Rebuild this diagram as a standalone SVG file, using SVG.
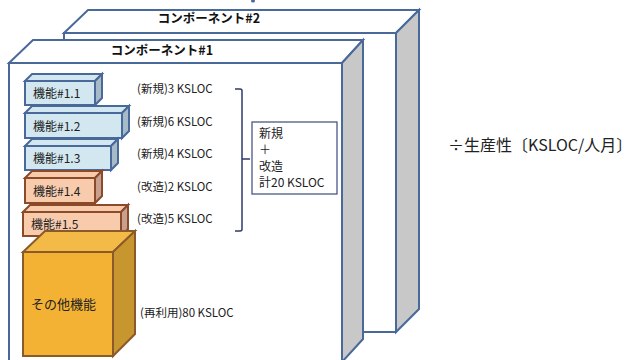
<svg xmlns="http://www.w3.org/2000/svg" width="640" height="360" viewBox="0 0 640 360">
<style>
.comp{fill:#fff;stroke:#48699A;stroke-width:2;stroke-linejoin:miter}
.compside{fill:#C8C8C8;stroke:#48699A;stroke-width:2}
.bf{fill:#D2E7F0;stroke:#48699A;stroke-width:2}
.bs{fill:#A7BAC7;stroke:#48699A;stroke-width:2}
.of{fill:#F8CBAD;stroke:#8B4A28;stroke-width:2}
.os{fill:#C9A08E;stroke:#8B4A28;stroke-width:2}
.yf{fill:#F4B234;stroke:#8B5A2B;stroke-width:2}
.yt{fill:#F3BA48;stroke:#8B5A2B;stroke-width:2}
.ys{fill:#C8962F;stroke:#8B5A2B;stroke-width:2}
.t{font-family:"Noto Sans CJK JP","Liberation Sans",sans-serif;fill:#222}
.lab{font-size:12px}
.side{font-size:11.5px}
.title{font-size:12.5px;font-weight:bold;fill:#111}
</style>
<ellipse cx="253" cy="1" rx="2" ry="1.5" fill="#48699A"/>
<g id="comp2">
<polygon class="comp" points="64,33 88,10 419,10 396,33"/>
<polygon class="compside" points="396,33 419,10 419,309 396,332"/>
<rect class="comp" x="64" y="33" width="332" height="299"/>
<text class="t title" x="209" y="23" text-anchor="middle">コンポーネント#2</text>
</g>
<g id="comp1">
<polygon class="comp" points="9,63 33,40 363,40 342,63"/>
<polygon class="compside" points="342,63 363,40 363,339 342,362"/>
<rect class="comp" x="9" y="63" width="333" height="302"/>
<text class="t title" x="162" y="55" text-anchor="middle">コンポーネント#1</text>
</g>
<g id="f11">
<polygon class="bf" points="25,81 32,74 102,74 95,81"/>
<polygon class="bs" points="95,81 102,74 102,98 95,105"/>
<rect class="bf" x="25" y="81" width="70" height="24"/>
<text class="t lab" x="33" y="98">機能#1.1</text>
</g>
<g id="f12">
<polygon class="bf" points="25,113 32,106 129,106 122,113"/>
<polygon class="bs" points="122,113 129,106 129,131 122,138"/>
<rect class="bf" x="25" y="113" width="97" height="25"/>
<text class="t lab" x="33" y="131">機能#1.2</text>
</g>
<g id="f13">
<polygon class="bf" points="25,146 32,139 118,139 111,146"/>
<polygon class="bs" points="111,146 118,139 118,163 111,170"/>
<rect class="bf" x="25" y="146" width="86" height="24"/>
<text class="t lab" x="33" y="163">機能#1.3</text>
</g>
<g id="f14">
<polygon class="of" points="25,178 32,171 102,171 95,178"/>
<polygon class="os" points="95,178 102,171 102,196 95,203"/>
<rect class="of" x="25" y="178" width="70" height="25"/>
<text class="t lab" x="33" y="196">機能#1.4</text>
</g>
<g id="f15">
<polygon class="of" points="23,212 30,205 128,205 121,212"/>
<polygon class="os" points="121,212 128,205 128,229 121,236"/>
<rect class="of" x="23" y="212" width="98" height="24"/>
<text class="t lab" x="31" y="229">機能#1.5</text>
</g>
<g id="other">
<polygon class="yt" points="23,252 45,231 135,231 113,252"/>
<polygon class="ys" points="113,252 135,231 135,334 113,356"/>
<rect class="yf" x="23" y="252" width="90" height="104"/>
<text class="t" style="font-size:13px" x="31" y="309">その他機能</text>
</g>
<g id="labels">
<text class="t side" x="137" y="93">(新規)3 KSLOC</text>
<text class="t side" x="137" y="126">(新規)6 KSLOC</text>
<text class="t side" x="137" y="158">(新規)4 KSLOC</text>
<text class="t side" x="137" y="191">(改造)2 KSLOC</text>
<text class="t side" x="137" y="223">(改造)5 KSLOC</text>
<text class="t side" x="140" y="317">(再利用)80 KSLOC</text>
</g>
<g id="connectors">
<path d="M235,89 H240 Q242,89 242,91 V229 Q242,231 240,231 H235 M242,159 H250" fill="none" stroke="#2F3A6B" stroke-width="1.5"/>
</g>
<g id="sum">
<rect x="252" y="122" width="85" height="72" fill="#fff" stroke="#3E4A7A" stroke-width="1.2"/>
<text class="t" style="font-size:12px" x="259" y="138">新規</text>
<text class="t" style="font-size:12px" x="259" y="154">＋</text>
<text class="t" style="font-size:12px" x="259" y="171">改造</text>
<text class="t" style="font-size:12px" x="259" y="187">計20 KSLOC</text>
</g>
<text class="t" style="font-size:16px" x="448" y="151">÷生産性〔KSLOC/人月〕</text>
</svg>
